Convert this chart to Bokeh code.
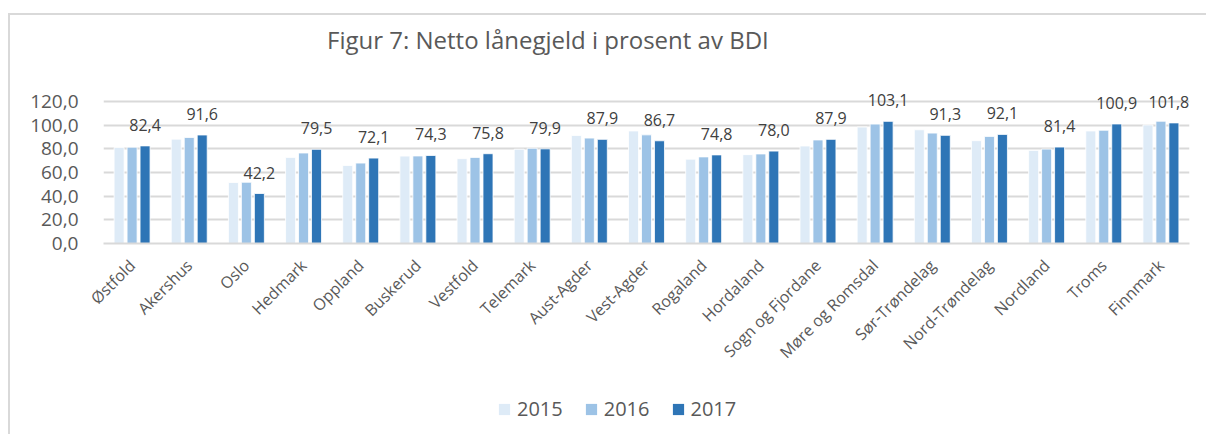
from bokeh.plotting import figure
from bokeh.models import (ColumnDataSource, FactorRange, Range1d, FixedTicker, Div,
                          Legend, LegendItem)
from bokeh.layouts import column
from bokeh.transform import dodge
from bokeh.core.properties import value
from bokeh.embed import file_html
from bokeh.resources import INLINE
import math

categories = ["Østfold", "Akershus", "Oslo", "Hedmark", "Oppland", "Buskerud", "Vestfold",
              "Telemark", "Aust-Agder", "Vest-Agder", "Rogaland", "Hordaland",
              "Sogn og Fjordane", "Møre og Romsdal", "Sør-Trøndelag", "Nord-Trøndelag",
              "Nordland", "Troms", "Finnmark"]
v2015 = [81.0, 88.1, 51.5, 72.7, 65.9, 73.8, 71.6, 79.6, 91.2, 95.0, 71.2, 75.0,
         82.3, 98.3, 96.0, 86.8, 78.6, 95.0, 100.1]
v2016 = [81.3, 89.5, 51.7, 76.4, 67.9, 73.9, 72.7, 80.4, 89.0, 91.7, 73.1, 75.6,
         87.4, 100.8, 93.2, 90.4, 79.7, 95.6, 103.2]
v2017 = [82.4, 91.6, 42.2, 79.5, 72.1, 74.3, 75.8, 79.9, 87.9, 86.7, 74.8, 78.0,
         87.9, 103.1, 91.3, 92.1, 81.4, 100.9, 101.8]
series_names = ["2015", "2016", "2017"]
colors = ["#DEEBF7", "#9DC3E6", "#2E75B6"]
yticks = [0, 20, 40, 60, 80, 100, 120]
title_text = "Figur 7: Netto lånegjeld i prosent av BDI"

FONT = "Open Sans"
TXT = "#595959"
W = 1196

# nudge the last value label inwards so it is not clipped at the plot edge
label_nudge = [0] * (len(categories) - 1) + [-5]

source = ColumnDataSource(data=dict(
    cat=categories, v2015=v2015, v2016=v2016, v2017=v2017,
    lbl=[f"{v:.1f}".replace(".", ",") for v in v2017],
    nudge=label_nudge,
))

# ---- title -------------------------------------------------------------
title_div = Div(
    text=(f'<div style="margin:0; padding:13px 0 0 317px; font-family:\'Open Sans\';'
          f' font-size:24px; line-height:24px; color:{TXT}; white-space:nowrap;">'
          f'{title_text}</div>'),
    width=W, height=48, margin=0)

# ---- main chart ----------------------------------------------------------
p = figure(width=W, height=312, x_range=FactorRange(*categories, range_padding=0),
           y_range=Range1d(0, 130), output_backend="svg", toolbar_location=None,
           min_border_left=93, min_border_right=17, min_border_top=26,
           min_border_bottom=132, margin=0)
p.outline_line_color = None
p.background_fill_color = "white"
p.border_fill_color = "white"

offsets = [-0.227, 0.0, 0.227]
cols = ["v2015", "v2016", "v2017"]
for col, off, c in zip(cols, offsets, colors):
    p.vbar(x=dodge("cat", off, range=p.x_range), top=col, width=0.175, source=source,
           fill_color=c, line_color="white", line_width=0.8)

p.text(x=dodge("cat", 0.227, range=p.x_range), y="v2017", text="lbl", source=source,
       text_font=value(FONT), text_font_size="16px", text_color="#404040",
       text_align="center", text_baseline="middle", y_offset=-21, x_offset="nudge")

p.yaxis.ticker = FixedTicker(ticks=yticks)
p.yaxis.major_label_overrides = {t: f"{t},0" for t in yticks}
p.yaxis.axis_line_color = None
p.yaxis.major_tick_line_color = None
p.yaxis.minor_tick_line_color = None
p.yaxis.major_label_text_font = FONT
p.yaxis.major_label_text_font_size = "19px"
p.yaxis.major_label_text_color = TXT
p.yaxis.major_label_standoff = 19

p.xaxis.axis_line_color = "#d9d9d9"
p.xaxis.axis_line_width = 2
p.xaxis.major_tick_line_color = None
p.xaxis.minor_tick_line_color = None
p.xaxis.major_label_orientation = math.pi / 4
p.xaxis.major_label_text_font = FONT
p.xaxis.major_label_text_font_size = "16px"
p.xaxis.major_label_text_color = TXT
p.xaxis.major_label_standoff = 13

p.xgrid.grid_line_color = None
p.ygrid.grid_line_color = "#d9d9d9"
p.ygrid.grid_line_width = 2

# ---- legend strip ----------------------------------------------------------
p2 = figure(width=W, height=59, x_range=Range1d(0, 1), y_range=Range1d(0, 1),
            output_backend="svg", toolbar_location=None, min_border=0,
            x_axis_location=None, y_axis_location=None, margin=0)
p2.grid.visible = False
p2.outline_line_color = None
p2.background_fill_color = "white"
p2.border_fill_color = "white"
items = []
for name, c in zip(series_names, colors):
    # zero-size swatch renderer: only its legend entry is visible
    r = p2.vbar(x=[0.5], top=[0], width=0, fill_color=c, line_color=None)
    items.append(LegendItem(label=name, renderers=[r]))
legend = Legend(items=items, orientation="horizontal", location=(394, 12),
                glyph_width=14, glyph_height=14, label_standoff=6, spacing=21,
                padding=0, margin=0, border_line_color=None, background_fill_alpha=0,
                label_text_font=FONT, label_text_font_size="20px", label_text_color=TXT)
p2.add_layout(legend, "center")

layout = column(title_div, p, p2, spacing=0, margin=(13, 0, 0, 8),
                styles={"border-top": "2px solid #d9d9d9",
                        "border-left": "2px solid #d9d9d9"})

open("out.html", "w").write(file_html(layout, INLINE))
